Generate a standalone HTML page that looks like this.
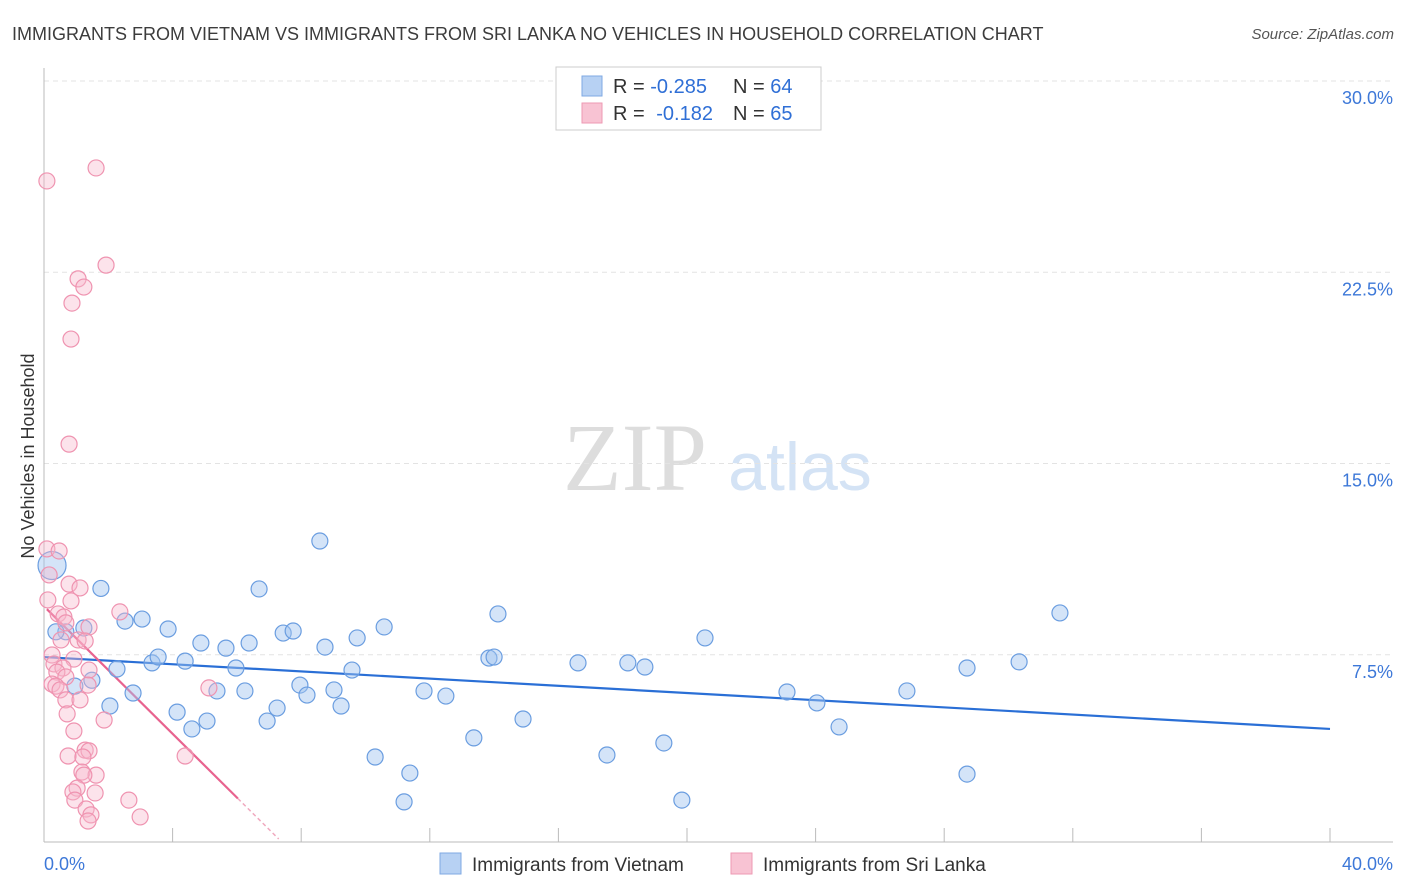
<!DOCTYPE html>
<html><head><meta charset="utf-8"><style>
body{margin:0;background:#fff;font-family:"Liberation Sans",sans-serif;}
#wrap{position:relative;width:1406px;height:892px;overflow:hidden;}
svg text{font-family:"Liberation Sans",sans-serif;}
</style></head><body>
<div id="wrap">
<svg id="chart" width="1406" height="892">
<text x="12" y="40" font-size="18" fill="#3c3c3c">IMMIGRANTS FROM VIETNAM VS IMMIGRANTS FROM SRI LANKA NO VEHICLES IN HOUSEHOLD CORRELATION CHART</text>
<text x="1394" y="39" font-size="15" fill="#555" text-anchor="end" font-style="italic">Source: ZipAtlas.com</text>
<text x="34" y="456" font-size="18" fill="#333" text-anchor="middle" transform="rotate(-90 34 456)">No Vehicles in Household</text>
<text x="635" y="490" font-size="96" fill="#ddd" text-anchor="middle" font-family="Liberation Serif,serif" style="font-family:'Liberation Serif',serif">ZIP</text>
<text x="800" y="490" font-size="68" fill="#d4e3f5" text-anchor="middle">atlas</text>
<g id="grid"></g><g id="axes"></g><g id="trends"></g><g id="points"></g>
<g>
<rect x="556" y="67" width="265" height="63" fill="#fff" stroke="#ccc"/>
<rect x="582" y="76" width="20" height="20" fill="#b7d1f3" stroke="#7fa9e3"/>
<rect x="582" y="103" width="20" height="20" fill="#f8c3d3" stroke="#ee9ab3"/>
<text x="613" y="93" font-size="20" fill="#333">R = <tspan fill="#2f6fd6">-0.285</tspan><tspan x="733">N = </tspan><tspan fill="#2f6fd6">64</tspan></text>
<text x="613" y="120" font-size="20" fill="#333">R = <tspan fill="#2f6fd6" dx="6">-0.182</tspan><tspan x="733">N = </tspan><tspan fill="#2f6fd6">65</tspan></text>
</g>
<g>
<rect x="440" y="853" width="21" height="21" fill="#b7d1f3" stroke="#7fa9e3"/>
<text x="472" y="871" font-size="19" fill="#333">Immigrants from Vietnam</text>
<rect x="731" y="853" width="21" height="21" fill="#f8c3d3" stroke="#ee9ab3"/>
<text x="763" y="871" font-size="19" fill="#333">Immigrants from Sri Lanka</text>
</g>
</svg></div>
<script>
const yTicks=[7.5,15,22.5,30];
const yTickLabels=["7.5%","15.0%","22.5%","30.0%"];
const xTicks=[0,4,8,12,16,20,24,28,32,36,40];
const xEndLabels=["0.0%","40.0%"];
const vnX=[0.25,1.77,1.24,0.68,0.37,1.49,0.96,2.27,2.05,2.52,3.05,2.77,3.36,3.55,3.86,4.14,4.39,4.6,4.88,5.07,5.38,5.66,5.97,6.25,6.38,6.69,6.94,7.25,7.44,7.75,7.96,8.18,8.58,8.74,9.02,9.24,9.58,9.74,10.3,10.58,11.38,11.2,11.82,12.5,13.37,13.84,14.0,14.12,14.9,16.61,17.51,18.16,18.69,19.28,19.84,20.56,23.11,24.04,24.73,26.84,28.71,28.71,30.33,31.6];
const vnY=[11.0,10.1,8.55,8.4,8.4,6.5,6.27,6.94,5.49,8.82,8.9,6.0,7.18,7.41,8.51,5.25,7.25,4.59,7.96,4.9,6.08,7.76,6.98,6.08,7.96,10.08,4.9,5.41,8.35,8.43,6.31,5.92,11.96,7.8,6.12,5.49,6.9,8.16,3.49,8.59,2.86,1.73,6.08,5.88,4.24,7.37,7.41,9.1,4.98,7.18,3.57,7.18,7.02,4.04,1.8,8.16,6.04,5.61,4.67,6.08,6.98,2.82,7.22,9.14];
const slX=[0.09,1.62,1.93,1.06,1.24,0.87,0.84,0.78,0.09,0.47,0.16,0.78,1.12,0.84,0.12,2.36,0.44,0.62,0.68,1.4,1.06,1.28,0.53,0.25,0.93,0.31,0.59,0.4,1.4,0.68,0.25,0.37,0.5,1.37,5.13,0.68,1.12,0.72,1.87,0.93,1.28,1.4,0.75,1.21,1.18,1.62,1.24,1.03,0.9,1.59,2.64,0.96,1.31,1.46,1.37,2.99,4.39];
const slY=[26.08,26.59,22.78,22.24,21.92,21.29,19.88,15.76,11.65,11.57,10.63,10.27,10.12,9.61,9.65,9.18,9.1,8.98,8.75,8.59,8.08,8.04,8.08,7.49,7.33,7.14,6.98,6.82,6.9,6.63,6.35,6.27,6.12,6.31,6.2,5.73,5.73,5.18,4.94,4.51,3.76,3.73,3.53,3.49,2.9,2.78,2.78,2.27,2.12,2.08,1.8,1.8,1.45,1.22,0.98,1.14,3.53];
const vnTrend=[7.41,-0.0705]; // intercept, slope
const slTrend=[9.4,-1.25];
const xs=v=>44+v*32.15, ys=v=>846-v*25.5;
const NS="http://www.w3.org/2000/svg";
function mk(parent,tag,attrs){const e=document.createElementNS(NS,tag);for(const k in attrs)e.setAttribute(k,attrs[k]);document.getElementById(parent).appendChild(e);return e;}
yTicks.forEach((t,i)=>{
 const l=mk('grid','line',{x1:44,x2:1393,y1:ys(t),y2:ys(t),stroke:'#e3e3e3','stroke-dasharray':'5,4'});
 
 
 const tx=mk('grid','text',{x:1393,y:ys(t)+23,'font-size':18,fill:'#3d78d8','text-anchor':'end'});
 tx.textContent=yTickLabels[i];
 
 
});
const ya=mk('axes','line',{x1:44,x2:44,y1:68,y2:842,stroke:'#bbb'});


const xa=mk('axes','line',{x1:44,x2:1393,y1:842,y2:842,stroke:'#bbb'});


xTicks.forEach(t=>{
 const l=mk('axes','line',{x1:xs(t),x2:xs(t),y1:828,y2:842,stroke:'#bbb'});
 
 
});
[[0,'start',44],[1,'end',1393]].forEach(([i,a,x])=>{
 const tx=mk('axes','text',{x:x,y:870,'font-size':18,fill:'#3d78d8','text-anchor':a});
 tx.textContent=xEndLabels[i];
 
 
});
vnX.forEach((x,i)=>{
 const c=mk('points','circle',{cx:xs(x),cy:ys(vnY[i]),r:i==0?14:8,fill:'rgba(160,195,240,0.45)',stroke:'#6a9de0','stroke-width':1.2});
 
 
});
slX.forEach((x,i)=>{
 const c=mk('points','circle',{cx:xs(x),cy:ys(slY[i]),r:8,fill:'rgba(248,185,205,0.4)',stroke:'#ef93b0','stroke-width':1.2});
 
 
});
const bt=mk('trends','line',{x1:xs(0),y1:ys(vnTrend[0]),x2:xs(40),y2:ys(vnTrend[0]+vnTrend[1]*40),stroke:'#2a6fd6','stroke-width':2.2});


const pt=mk('trends','line',{x1:xs(0.09),y1:ys(slTrend[0]+slTrend[1]*0.09),x2:xs(6.03),y2:ys(slTrend[0]+slTrend[1]*6.03),stroke:'#e8638f','stroke-width':2.2});


const pd=mk('trends','line',{x1:xs(6.03),y1:ys(slTrend[0]+slTrend[1]*6.03),x2:xs(7.3),y2:ys(slTrend[0]+slTrend[1]*7.3),stroke:'#f0a9bf','stroke-width':1.5,'stroke-dasharray':'4,3'});


</script>
</body></html>
